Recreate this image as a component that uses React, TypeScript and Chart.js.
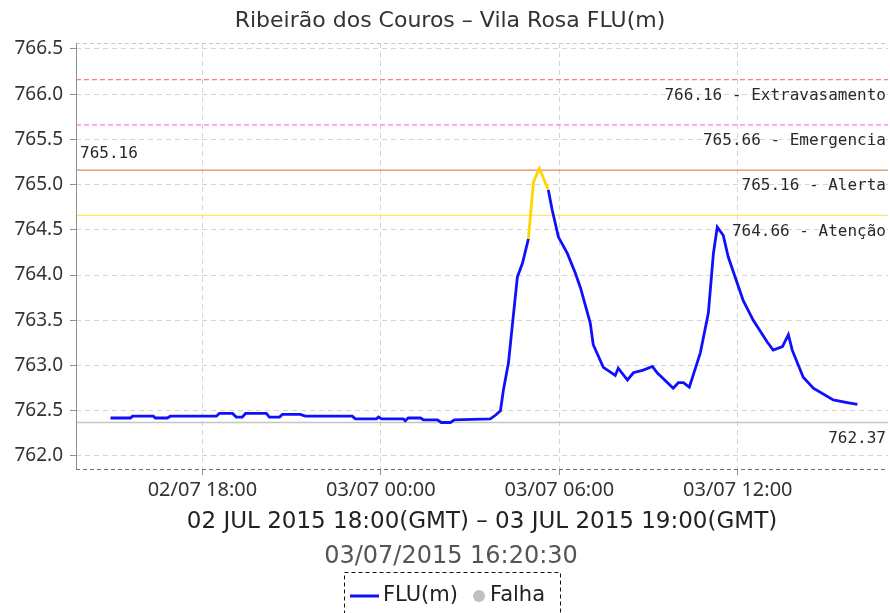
import React, { useEffect, useRef } from "react";
import { Chart, registerables } from "chart.js";

Chart.register(...registerables);

// Time in hours counted from 02/07/2015 00:00 (local)
const HOURS = [
  14.91, 15.58, 15.65, 16.35, 16.42, 16.82, 16.92, 18.47, 18.57, 19.01,
  19.14, 19.34, 19.45, 20.15, 20.25, 20.59, 20.69, 21.29, 21.46, 23.04,
  23.14, 23.85, 23.92, 24.02, 24.76, 24.82, 24.92, 25.33, 25.43, 25.9,
  26.03, 26.34, 26.47, 27.68, 27.85, 28.02, 28.12, 28.29, 28.45, 28.59,
  28.76, 28.96, 29.13, 29.33, 29.63, 29.76, 29.97, 30.27, 30.54, 30.71,
  31.04, 31.14, 31.48, 31.88, 31.98, 32.29, 32.49, 32.82, 33.13, 33.29,
  33.83, 34.0, 34.17, 34.37, 34.74, 35.01, 35.18, 35.31, 35.51, 35.68,
  36.18, 36.52, 36.99, 37.19, 37.5, 37.7, 37.83, 38.2, 38.54, 39.21,
  39.68, 40.02,
];
const LEVELS = [
  762.42, 762.42, 762.44, 762.44, 762.42, 762.42, 762.44, 762.44, 762.47, 762.47,
  762.43, 762.43, 762.47, 762.47, 762.43, 762.43, 762.46, 762.46, 762.44, 762.44,
  762.41, 762.41, 762.43, 762.41, 762.41, 762.39, 762.42, 762.42, 762.4, 762.4,
  762.37, 762.37, 762.4, 762.41, 762.45, 762.5, 762.73, 763.03, 763.54, 763.98,
  764.13, 764.4, 765.03, 765.18, 764.94, 764.72, 764.42, 764.24, 764.02, 763.86,
  763.47, 763.23, 762.98, 762.89, 762.97, 762.84, 762.92, 762.95, 762.99, 762.92,
  762.75, 762.81, 762.81, 762.76, 763.14, 763.58, 764.24, 764.53, 764.44, 764.2,
  763.72, 763.5, 763.26, 763.17, 763.21, 763.34, 763.17, 762.87, 762.75, 762.62,
  762.59, 762.57,
];
// Part of the series drawn in the alert colour
const ALERT_FROM = 28.96;
const ALERT_TO = 29.63;

const X_MIN = 13.75;
const X_MAX = 41.05;
const X_TICKS = [18, 24, 30, 36];
const X_TICK_LABELS = ["02/07 18:00", "03/07 00:00", "03/07 06:00", "03/07 12:00"];

const Y_MIN = 761.856;
const Y_MAX = 766.566;
const Y_TICKS = [762.0, 762.5, 763.0, 763.5, 764.0, 764.5, 765.0, 765.5, 766.0, 766.5];

const THRESH_VALUES = [766.16, 765.66, 765.16, 764.66];
const THRESH_LABELS = [
  "766.16 - Extravasamento",
  "765.66 - Emergencia",
  "765.16 - Alerta",
  "764.66 - Atenção",
];
const THRESH_COLORS = ["#ff7a7a", "#ff70ff", "#d48e5c", "#ffe866"];
const THRESH_DASHED = [true, true, false, false];

const MIN_LINE = 762.37;
const MIN_LABEL = "762.37";
const MAX_LABEL = "765.16";
const MAX_LINE = 765.16;

const TITLE = "Ribeirão dos Couros – Vila Rosa FLU(m)";
const X_TITLE = "02 JUL 2015 18:00(GMT) – 03 JUL 2015 19:00(GMT)";
const DATE_TEXT = "03/07/2015 16:20:30";
const LEGEND_ITEMS = ["FLU(m)", "Falha"];

const SANS = "'Noto Sans', 'DejaVu Sans', sans-serif";
const DEJA = "'DejaVu Sans', sans-serif";
const MONO = "'DejaVu Sans Mono', monospace";

const decorPlugin = {
  id: "decor",
  afterDraw(chart: any) {
    const ctx = chart.ctx as CanvasRenderingContext2D;
    const { left, right, top, bottom } = chart.chartArea;
    const ys = chart.scales.y;
    ctx.save();
    // frame
    ctx.lineWidth = 1;
    ctx.setLineDash([4, 3]);
    ctx.strokeStyle = "#c8c8c8";
    ctx.beginPath();
    ctx.moveTo(left, top + 0.5);
    ctx.lineTo(right, top + 0.5);
    ctx.stroke();
    ctx.strokeStyle = "#707070";
    ctx.beginPath();
    ctx.moveTo(left, bottom + 0.5);
    ctx.lineTo(right, bottom + 0.5);
    ctx.stroke();
    ctx.setLineDash([]);
    ctx.strokeStyle = "#909090";
    ctx.beginPath();
    ctx.moveTo(left + 0.5, top);
    ctx.lineTo(left + 0.5, bottom);
    ctx.stroke();

    // threshold labels
    ctx.fillStyle = "#2a2a2a";
    ctx.font = `16px ${MONO}`;
    ctx.textBaseline = "middle";
    ctx.textAlign = "right";
    THRESH_VALUES.forEach((v, i) => {
      const y = ys.getPixelForValue(v);
      ctx.fillText(THRESH_LABELS[i], right - 2, y + 16);
    });
    ctx.fillText(MIN_LABEL, right - 2, ys.getPixelForValue(MIN_LINE) + 16);
    ctx.textAlign = "left";
    ctx.fillText(MAX_LABEL, left + 4, ys.getPixelForValue(MAX_LINE) - 16);

    // title
    ctx.fillStyle = "#333333";
    ctx.textAlign = "center";
    ctx.font = `22px ${DEJA}`;
    ctx.fillText(TITLE, 450, 21);

    // axis title
    const cx = (left + right) / 2;
    ctx.fillStyle = "#222222";
    ctx.font = `23px ${DEJA}`;
    ctx.fillText(X_TITLE, cx, 522);

    ctx.fillStyle = "#555555";
    ctx.font = `24px ${DEJA}`;
    ctx.fillText(DATE_TEXT, 451, 557);

    // legend
    ctx.setLineDash([4, 3]);
    ctx.strokeStyle = "#111111";
    ctx.lineWidth = 1;
    ctx.strokeRect(344.5, 572.5, 216, 50);
    ctx.setLineDash([]);
    ctx.strokeStyle = "#1010ff";
    ctx.lineWidth = 3;
    ctx.beginPath();
    ctx.moveTo(350, 596);
    ctx.lineTo(379, 596);
    ctx.stroke();
    ctx.fillStyle = "#222222";
    ctx.font = `21px ${DEJA}`;
    ctx.textAlign = "left";
    ctx.fillText(LEGEND_ITEMS[0], 383, 596);
    ctx.fillStyle = "#c0c0c0";
    ctx.beginPath();
    ctx.arc(479, 596, 6, 0, Math.PI * 2);
    ctx.fill();
    ctx.fillStyle = "#222222";
    ctx.fillText(LEGEND_ITEMS[1], 490, 596);
    ctx.restore();
  },
};

export default function App() {
  const ref = useRef<HTMLCanvasElement>(null);
  useEffect(() => {
    document.body.style.margin = "0";
    const canvas = ref.current!;
    const lineData = HOURS.map((h, i) => ({ x: h, y: LEVELS[i] }));
    const threshSets = THRESH_VALUES.map((v, i) => ({
      label: THRESH_LABELS[i],
      data: [
        { x: X_MIN, y: v },
        { x: X_MAX, y: v },
      ],
      borderColor: THRESH_COLORS[i],
      borderWidth: 1.3,
      borderDash: THRESH_DASHED[i] ? [5, 3] : [],
      pointRadius: 0,
    }));
    const chart = new Chart(canvas, {
      type: "line",
      data: {
        datasets: [
          {
            label: "FLU(m)",
            data: lineData,
            borderColor: "#1010ff",
            borderWidth: 2.8,
            pointRadius: 0,
            tension: 0,
            segment: {
              borderColor: (c: any) =>
                c.p0.parsed.x >= ALERT_FROM && c.p1.parsed.x <= ALERT_TO ? "#ffd500" : "#1010ff",
            },
          },
          ...threshSets,
          {
            label: "min",
            data: [
              { x: X_MIN, y: MIN_LINE },
              { x: X_MAX, y: MIN_LINE },
            ],
            borderColor: "#c4c4c4",
            borderWidth: 1.5,
            pointRadius: 0,
          },
        ],
      },
      options: {
        animation: false,
        responsive: false,
        devicePixelRatio: 1,
        layout: { padding: { top: 43, left: 0, right: 2, bottom: 104 } },
        plugins: {
          legend: { display: false },
          title: { display: false },
          tooltip: { enabled: false },
        },
        scales: {
          x: {
            type: "linear",
            min: X_MIN,
            max: X_MAX,
            afterFit: (s: any) => {
              s.height = 40;
            },
            afterBuildTicks: (s: any) => {
              s.ticks = X_TICKS.map((v) => ({ value: v }));
            },
            ticks: {
              autoSkip: false,
              maxRotation: 0,
              padding: 3,
              color: "#333333",
              font: { family: SANS, size: 20 },
              callback: (v: any) => {
                const i = X_TICKS.indexOf(Number(v));
                return i >= 0 ? X_TICK_LABELS[i] : "";
              },
            },
            grid: {
              color: "#d4d4d4",
              tickColor: "#909090",
              tickLength: 6,
              lineWidth: 1,
            },
            border: { display: false, dash: [5, 4] },
          },
          y: {
            type: "linear",
            min: Y_MIN,
            max: Y_MAX,
            afterFit: (s: any) => {
              s.width = 76;
            },
            afterBuildTicks: (s: any) => {
              s.ticks = Y_TICKS.map((v) => ({ value: v }));
            },
            ticks: {
              padding: 7,
              color: "#333333",
              font: { family: SANS, size: 19 },
              callback: (v: any) => Number(v).toFixed(1),
            },
            grid: {
              color: "#d4d4d4",
              tickColor: "#909090",
              tickLength: 6,
              lineWidth: 1,
            },
            border: { display: false, dash: [5, 4] },
          },
        },
      },
      plugins: [decorPlugin],
    } as any);
    return () => chart.destroy();
  }, []);
  return <canvas ref={ref} width={890} height={613} style={{ display: "block" }} />;
}
